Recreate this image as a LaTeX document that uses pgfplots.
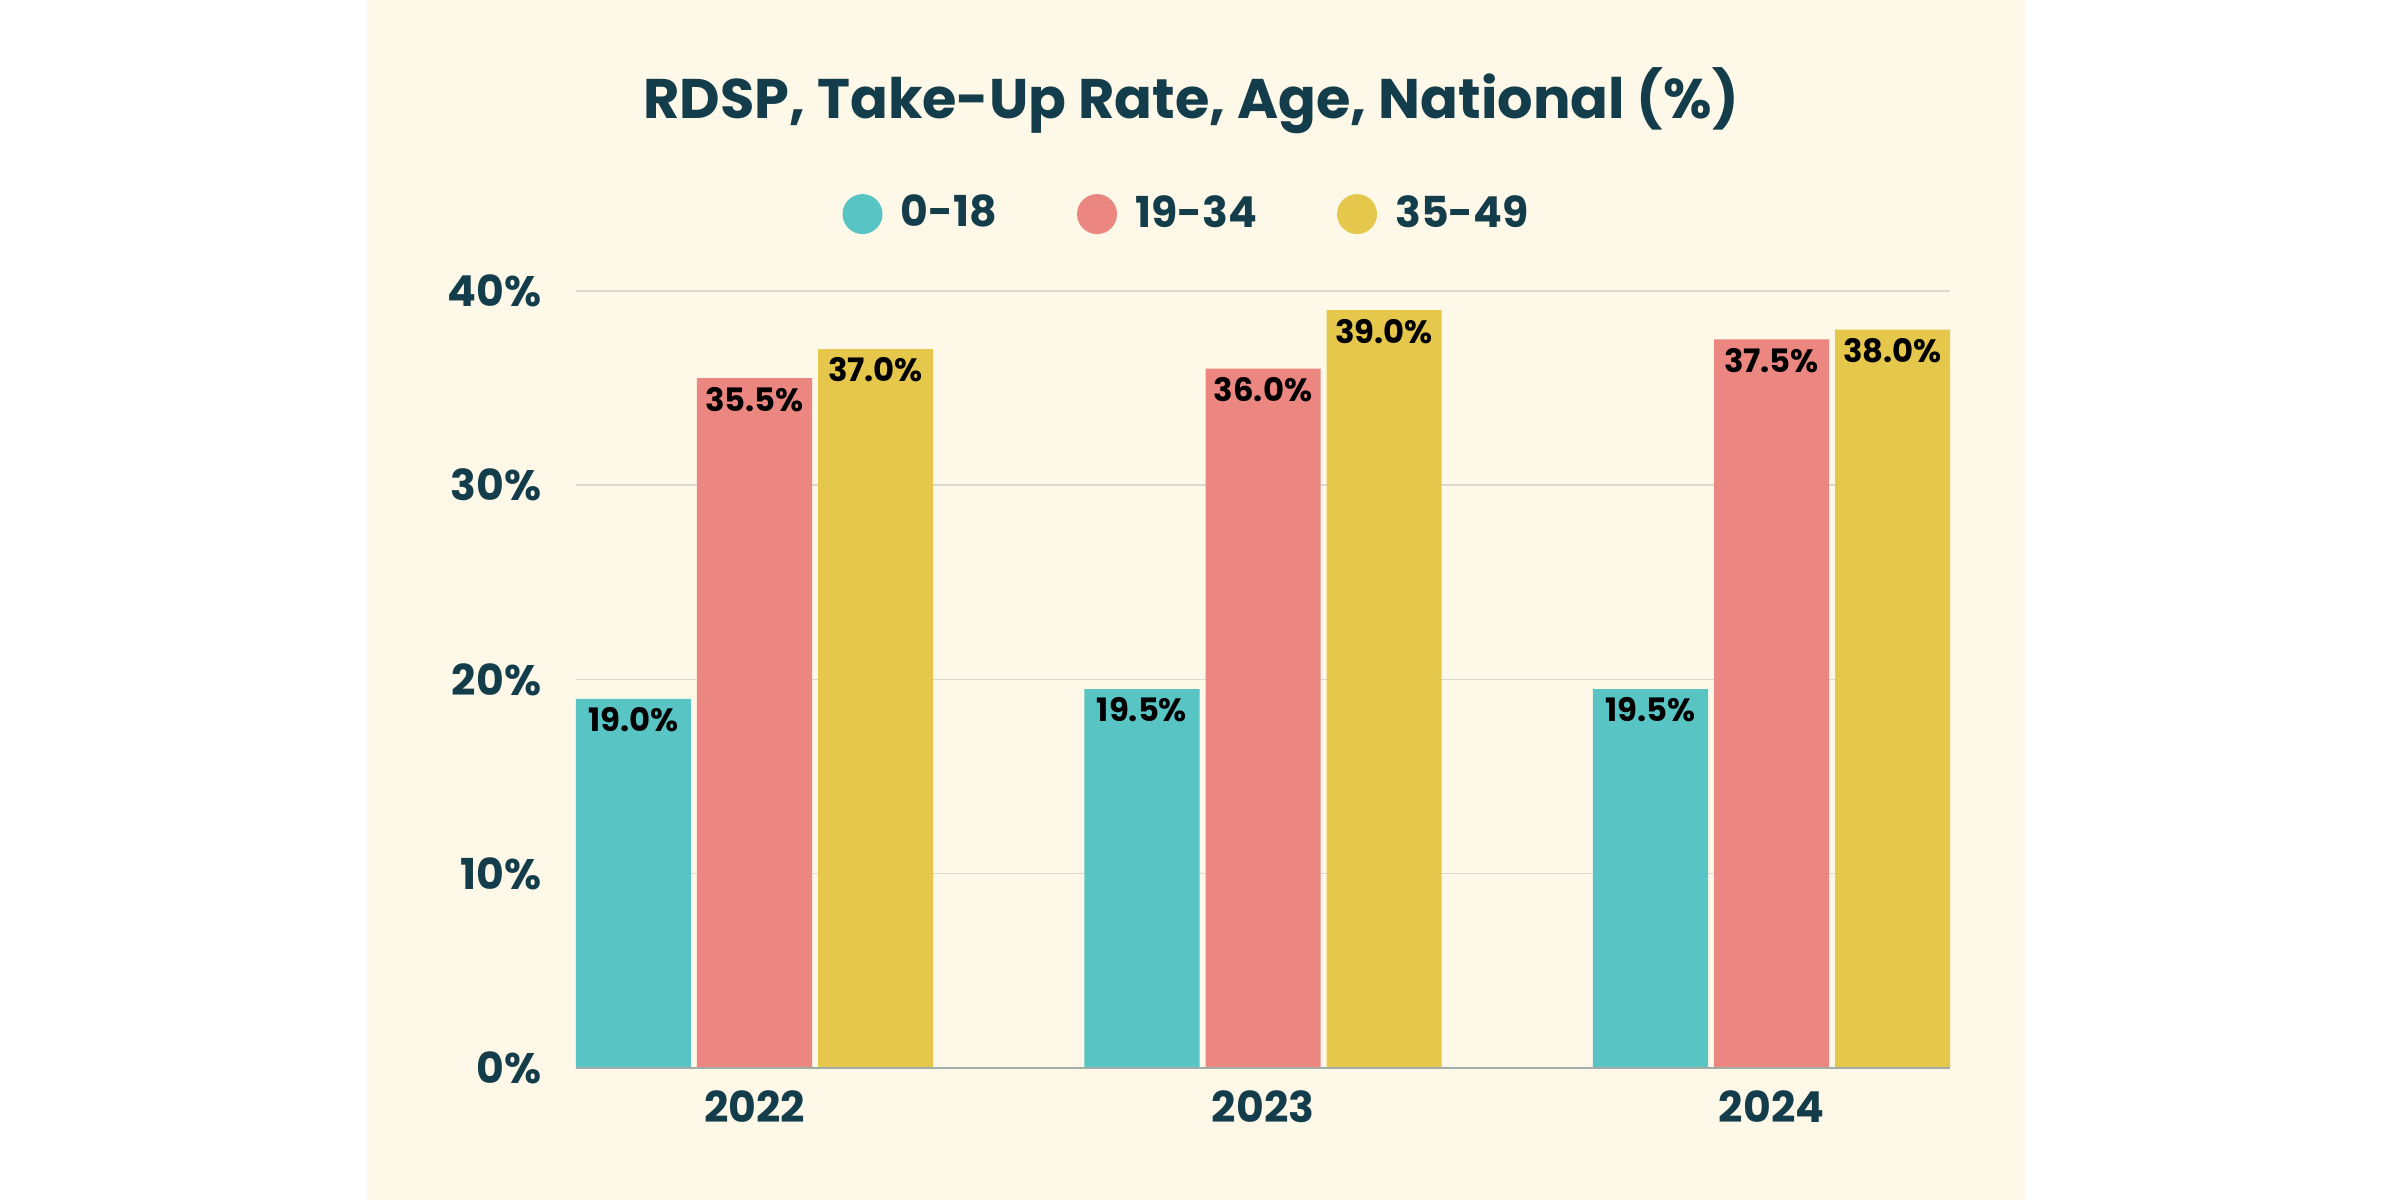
\documentclass[border=0pt]{standalone}
\usepackage{pgfplots}
\pgfplotsset{compat=1.18}
\usepackage{fontspec}
\setmainfont{Poppins}
\definecolor{cream}{HTML}{FEF8E9}
\definecolor{titlec}{HTML}{143D4B}
\definecolor{cyanb}{HTML}{59C4C4}
\definecolor{redb}{HTML}{EC8680}
\definecolor{yelb}{HTML}{E5C84B}
\definecolor{gridc}{HTML}{DAD9D0}
\definecolor{basec}{HTML}{A3ADA8}
\pgfplotsset{
  circlegend/.style={legend image code/.code={\fill[##1] (0bp,0bp) circle (5bp);}}
}
\begin{document}
\begin{tikzpicture}
\fill[white] (0,0) rectangle (600bp,300bp);
\fill[cream] (91.75bp,0) rectangle (506.25bp,300bp);
\begin{axis}[
  at={(144bp,33bp)}, anchor=south west,
  scale only axis, width=343.5bp, height=194.3bp,
  xmin=-0.351, xmax=2.351, ymin=0, ymax=40,
  ybar, bar width=0.2262,
  axis line style={draw=none},
  major tick length=0pt,
  xtick={0,1,2}, xticklabels={2022,2023,2024},
  ytick={0,10,20,30,40},
  yticklabel={\pgfmathprintnumber{\tick}\%},
  /pgf/number format/assume math mode=true,
  ymajorgrids, grid style={color=gridc, line width=0.35bp},
  xticklabel style={inner sep=0pt, anchor=base, yshift=-13.5bp, font=\bfseries\fontsize{10.7}{12}\selectfont, text=titlec},
  yticklabel style={inner sep=0pt, anchor=east, xshift=-8.5bp, font=\bfseries\fontsize{10.7}{12}\selectfont, text=titlec},
  nodes near coords={\pgfmathprintnumber[fixed,fixed zerofill,precision=1]{\pgfplotspointmeta}\%},
  every node near coord/.append style={inner sep=0pt, anchor=base, yshift=-8.2bp, font=\bfseries\fontsize{8.1}{10}\selectfont, text=black},
  title={RDSP, Take-Up Rate, Age, National (\%)},
  title style={at={(0.4476,1.1913)}, anchor=base, inner sep=0pt, font=\bfseries\fontsize{14}{16}\selectfont, text=titlec},
  legend columns=3,
  legend style={at={(0.4466,1.0987)}, anchor=center, draw=none, fill=none,
    font=\bfseries\fontsize{10.7}{12}\selectfont, text=titlec,
    /tikz/every odd column/.append style={column sep=2.6bp},
    /tikz/every even column/.append style={column sep=18bp}},
  clip=false,
]
\addplot[fill=cyanb, draw=none, bar shift=-0.238, circlegend] coordinates {(0,19.0) (1,19.5) (2,19.5)};
\addplot[fill=redb, draw=none, bar shift=0, circlegend] coordinates {(0,35.5) (1,36.0) (2,37.5)};
\addplot[fill=yelb, draw=none, bar shift=0.238, circlegend] coordinates {(0,37.0) (1,39.0) (2,38.0)};
\legend{0-18,19-34,35-49}
\draw[basec, line width=0.5bp] (axis cs:-0.351,0) -- (axis cs:2.351,0);
\end{axis}
\end{tikzpicture}
\end{document}
